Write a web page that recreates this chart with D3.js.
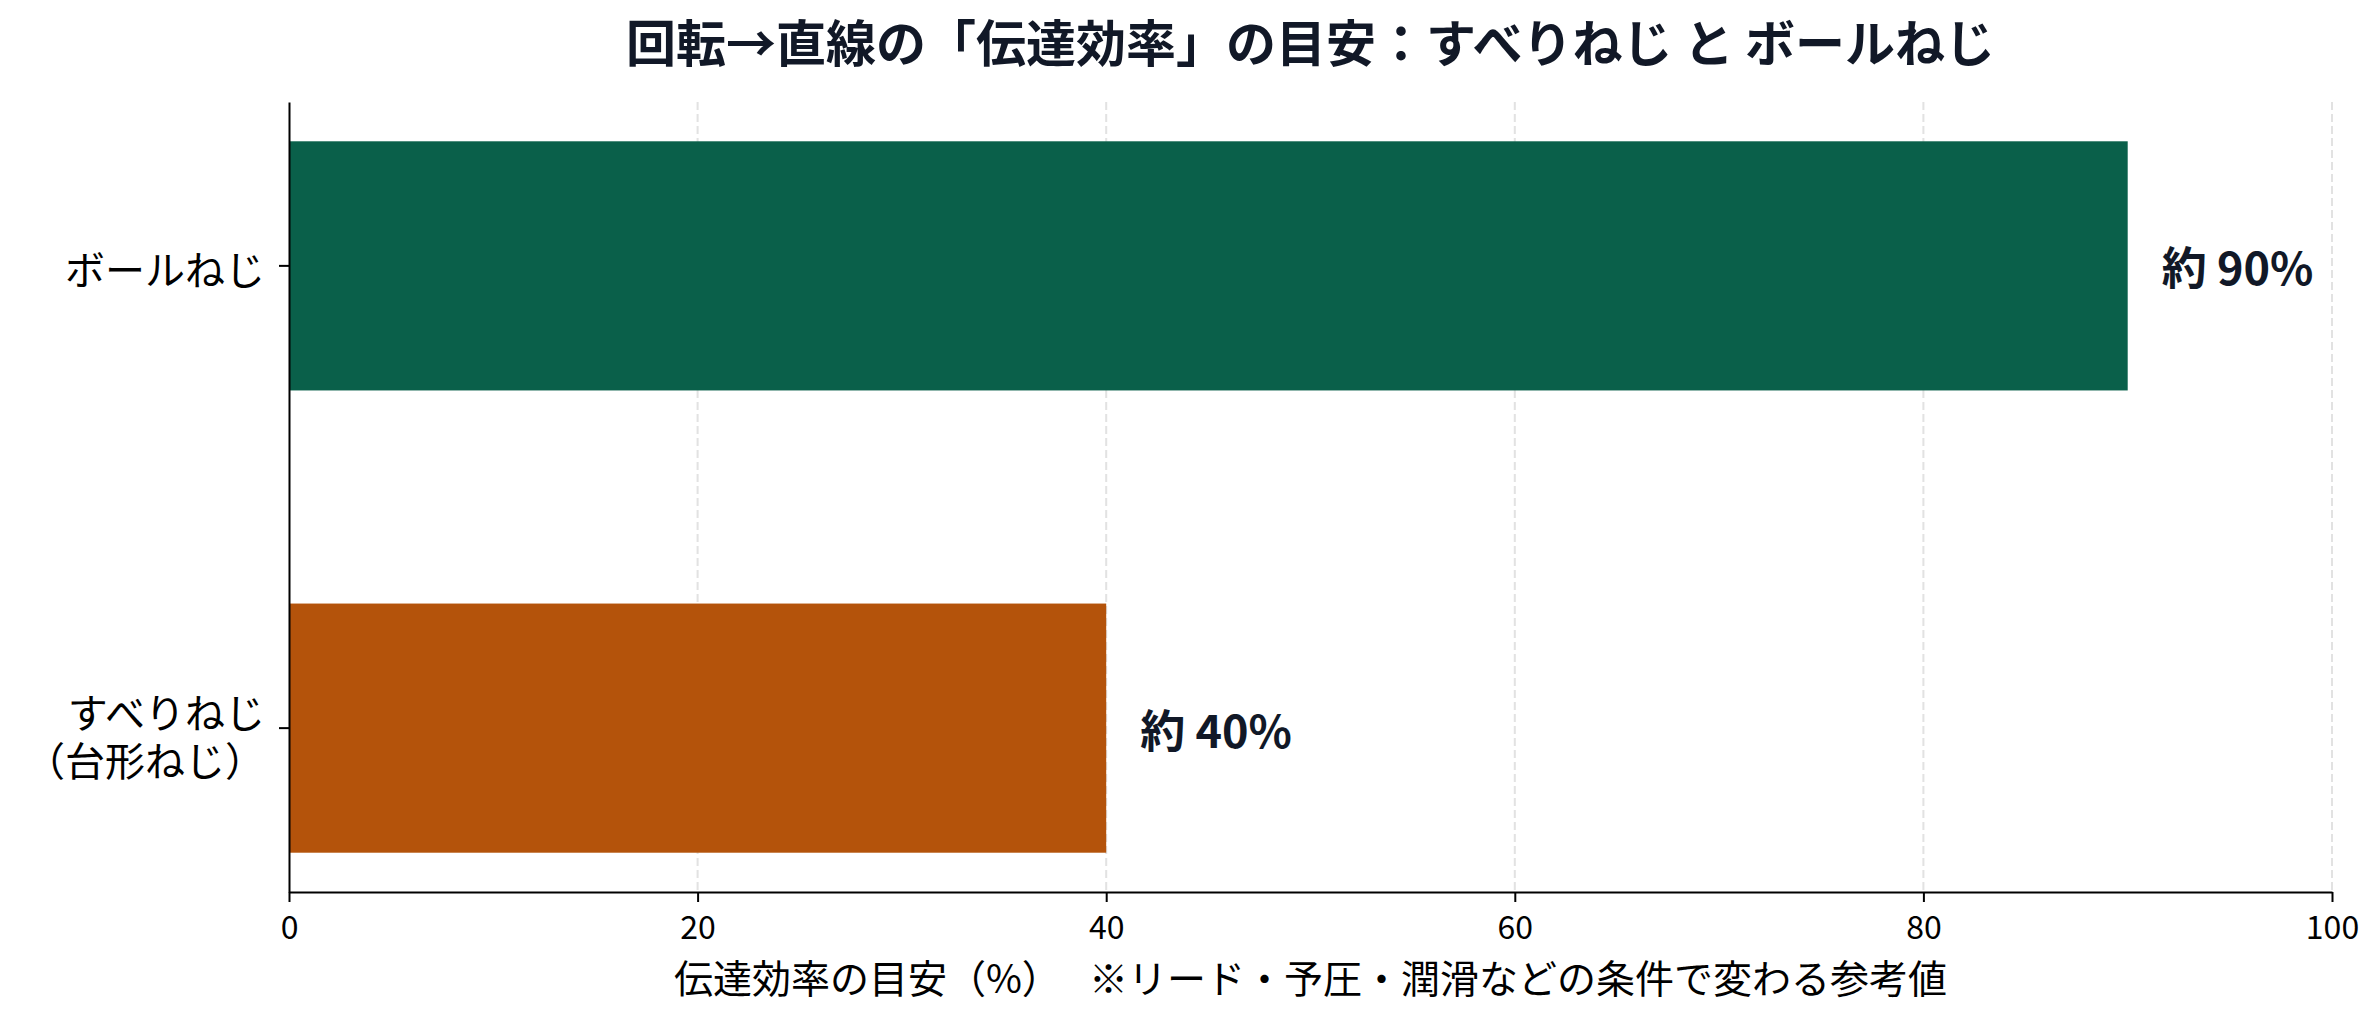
<!DOCTYPE html>
<html>
<head>
<meta charset="utf-8">
<script src="https://cdn.jsdelivr.net/npm/d3@7"></script>
<style>
  body { margin: 0; background: #fff; }
  text { font-family: "Noto Sans CJK JP", "Noto Sans", sans-serif; }
</style>
</head>
<body>
<div id="chart"></div>
<script>
// data
const categories = ["ボールねじ", "すべりねじ\n（台形ねじ）"];
const efficiency = [90, 40];
const valueLabels = ["約 90%", "約 40%"];
const barColors = ["#0a604a", "#b4530b"];
const xTicks = [0, 20, 40, 60, 80, 100];
const titleText = "回転→直線の「伝達効率」の目安：すべりねじ と ボールねじ";
const xLabelText = "伝達効率の目安（%）　 ※リード・予圧・潤滑などの条件で変わる参考値";

const W = 2379, H = 1019;
const margin = { top: 102, right: 47, bottom: 127, left: 289 },
    width = W - margin.left - margin.right,
    height = H - margin.top - margin.bottom;

const svg = d3.select("#chart")
    .append("svg")
    .attr("width", W)
    .attr("height", H);

const g = svg.append("g")
    .attr("transform", `translate(${margin.left},${margin.top})`);

const x = d3.scaleLinear().domain([0, 100]).range([0, width]);

const y = d3.scaleBand()
    .domain(categories)
    .range([0, height])
    .paddingInner(0.461)
    .paddingOuter(0.085);

const color = d3.scaleOrdinal().domain(categories).range(barColors);

const rows = categories.map((c, i) => ({ cat: c, value: efficiency[i], label: valueLabels[i] }));

// dashed grid
g.selectAll("line.grid")
    .data(xTicks.filter(d => d > 0))
    .join("line")
    .attr("class", "grid")
    .attr("x1", d => x(d)).attr("x2", d => x(d))
    .attr("y1", 0).attr("y2", height)
    .attr("stroke", "#e2e2e2")
    .attr("stroke-width", 2)
    .attr("stroke-dasharray", "8,4");

// bars
g.selectAll("rect.bar")
    .data(rows)
    .join("rect")
    .attr("class", "bar")
    .attr("x", x(0) + 1)
    .attr("y", d => y(d.cat))
    .attr("width", d => x(d.value) - x(0) - 1)
    .attr("height", y.bandwidth())
    .attr("fill", d => color(d.cat));

// value labels
g.selectAll("text.val")
    .data(rows)
    .join("text")
    .attr("class", "val")
    .attr("x", d => x(d.value) + 34)
    .attr("y", d => y(d.cat) + y.bandwidth() / 2)
    .attr("dominant-baseline", "central")
    .attr("font-size", 45)
    .attr("font-weight", 700)
    .attr("fill", "#111827")
    .text(d => d.label);

// x axis
const xAxis = g.append("g")
    .attr("transform", `translate(0,${height})`)
    .call(d3.axisBottom(x).tickValues(xTicks).tickFormat(d3.format("d"))
        .tickSize(10).tickSizeOuter(0).tickPadding(14));
xAxis.select(".domain").attr("stroke", "#000").attr("stroke-width", 2);
xAxis.selectAll(".tick line").attr("stroke", "#000").attr("stroke-width", 2);
xAxis.selectAll(".tick text")
    .attr("font-size", 32)
    .attr("fill", "#000")
    .style("font-family", "\"Noto Sans CJK JP\", sans-serif");

// y axis
const yAxis = g.append("g")
    .call(d3.axisLeft(y).tickSize(10).tickSizeOuter(0).tickPadding(14));
yAxis.select(".domain").attr("stroke", "#000").attr("stroke-width", 2);
yAxis.selectAll(".tick line").attr("stroke", "#000").attr("stroke-width", 2);
yAxis.selectAll(".tick text").each(function (d) {
    const t = d3.select(this);
    const lines = d.split("\n");
    t.text(null)
        .attr("font-size", 40)
        .attr("fill", "#000")
        .attr("dy", null)
        .attr("dominant-baseline", "central");
    if (lines.length === 1) {
        t.append("tspan").attr("x", -24).attr("y", 2).text(lines[0]);
    } else {
        t.append("tspan").attr("x", -24).attr("y", -17).text(lines[0]);
        t.append("tspan").attr("x", -24).attr("y", 31).text(lines[1]);
    }
});

// x axis title
svg.append("text")
    .attr("x", margin.left + width / 2)
    .attr("y", 976)
    .attr("text-anchor", "middle")
    .attr("dominant-baseline", "central")
    .attr("font-size", 39)
    .attr("fill", "#000")
    .text(xLabelText);

// chart title
svg.append("text")
    .attr("x", margin.left + width / 2)
    .attr("y", 40)
    .attr("text-anchor", "middle")
    .attr("dominant-baseline", "central")
    .attr("font-size", 50)
    .attr("font-weight", 700)
    .attr("fill", "#111827")
    .text(titleText);
</script>
</body>
</html>
